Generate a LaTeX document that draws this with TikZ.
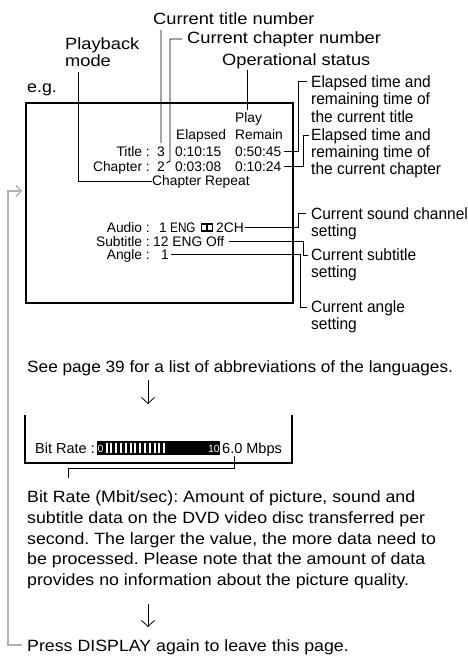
\documentclass[tikz,border=0pt]{standalone}
\usepackage{fontspec}
\setmainfont{Liberation Sans}
\newfontfamily\fwide[FakeStretch=1.12]{Liberation Sans}
\newfontfamily\fmain[FakeStretch=1.09]{Liberation Sans}
\newfontfamily\fsee[FakeStretch=1.056]{Liberation Sans}
\newfontfamily\fnarrow[FakeStretch=0.95]{Liberation Sans}
\newfontfamily\feng[FakeStretch=0.85]{Liberation Sans}
\usetikzlibrary{arrows.meta}
\frenchspacing
\begin{document}
\begin{tikzpicture}[x=1pt,y=-1pt,
  lab/.style={anchor=base west,inner sep=0pt,font=\fwide\fontsize{16.3}{17}\selectfont},
  rlab/.style={anchor=base west,inner sep=0pt,font=\fnarrow\fontsize{16.3}{17}\selectfont},
  txt/.style={anchor=base west,inner sep=0pt,font=\fmain\fontsize{16.3}{17}\selectfont},
  scr/.style={anchor=base west,inner sep=0pt,font=\fontsize{13.8}{14}\selectfont},
  scrr/.style={anchor=base east,inner sep=0pt,font=\fontsize{13.8}{14}\selectfont},
  brt/.style={anchor=base west,inner sep=0pt,font=\fontsize{14.5}{15}\selectfont},
  ln/.style={line width=0.9pt},
  frame/.style={line width=1.7pt},
  downarrow/.style={line width=0.8pt,-{Straight Barb[length=6pt,width=13pt]}},
  backline/.style={line width=1.3pt,draw=gray!60}]
\useasboundingbox (0,0) rectangle (468,659);
\fill[white] (0,0) rectangle (468,659);

% top labels
\node[lab] (ctn) at (153,24) {Current title number};
\node[lab] (ccn) at (187,43) {Current chapter number};
\node[lab] (pb1) at (65,49) {Playback};
\node[lab] (pb2) at (65,66) {mode};
\node[lab] (ops) at (222,65) {Operational status};
\node[txt] (eg) at (27,92) {e.g.};

% right labels
\node[rlab] (et1) at (311,87) {Elapsed time and};
\node[rlab] (et2) at (311,104) {remaining time of};
\node[rlab] (et3) at (311,122) {the current title};
\node[rlab] (ec1) at (311,140) {Elapsed time and};
\node[rlab] (ec2) at (311,157) {remaining time of};
\node[rlab] (ec3) at (311,174) {the current chapter};
\node[rlab] (cs1) at (311,219) {Current sound channel};
\node[rlab] (cs2) at (311,236) {setting};
\node[rlab] (cu1) at (311,260) {Current subtitle};
\node[rlab] (cu2) at (311,277) {setting};
\node[rlab] (ca1) at (311,312) {Current angle};
\node[rlab] (ca2) at (311,329) {setting};

% screen
\node[draw,frame,inner sep=0pt,minimum width=267pt,minimum height=200pt,anchor=north west] (screen) at (25,102) {};
\node[scr] (play) at (235,122) {Play};
\node[scr] (elap) at (176,139) {Elapsed};
\node[scr] (rem) at (235,139) {Remain};
\node[scrr] (tl) at (150,156) {Title :};
\node[scr] (t3) at (157,156) {3};
\node[scr] (te) at (175,156) {0:10:15};
\node[scr] (tr) at (235,156) {0:50:45};
\node[scrr] (cl) at (150,171) {Chapter :};
\node[scr] (c2) at (157,171) {2};
\node[scr] (ce) at (175,171) {0:03:08};
\node[scr] (cr) at (235,171) {0:10:24};
\node[scr] (rep) at (152,185) {Chapter Repeat};
\node[scrr] (al) at (150,232) {Audio :};
\node[scr] (a1) at (159,232) {1};
\node[anchor=base west,inner sep=0pt,font=\feng\fontsize{13.8}{14}\selectfont] (aeng) at (170,232) {ENG};
\node[scr] (a2) at (216,232) {2CH};
\node[scrr] (sl) at (150,246) {Subtitle :};
\node[scr] (s1) at (153,246) {12 ENG Off};
\node[scrr] (gl) at (150,259) {Angle :};
\node[scr] (g1) at (161,259) {1};
% audio icon
\fill (200.5,223) rectangle (213,232);
\fill[white] (202.1,224.6) rectangle (206.1,230.4);
\fill[white] (207.7,224.6) rectangle (211.5,230.4);

% connectors top
\coordinate (ctnA) at (161,30);
\draw[ln] (ctnA) -- ([yshift=3pt]t3.north);
\coordinate (ccnA) at (182,39);
\coordinate (ccnB) at (170,39);
\coordinate (ccnC) at (170,161);
\coordinate (ccnD) at (166.5,163);
\draw[ln] (ccnA) -- (ccnB) -- (ccnC) -- (ccnD);
\coordinate (pbA) at (78,72);
\coordinate (pbB) at (78,181);
\draw[ln] (pbA) -- (pbB) -- (pbB -| rep.west);
\coordinate (opA) at (247,70);
\draw[ln] (opA) -- (247,110);

% connectors right
\draw[ln] (284,151) -- (298,151) -- (298,81) -- (307,81);
\draw[ln] (284,166) -- (303,166) -- (303,135) -- (309,135);
\draw[ln] (245,227) -- (298,227) -- (298,213) -- (306,213);
\draw[ln] (229,241) -- (303,241) -- (303,255) -- (308,255);
\draw[ln] (171,254) -- (300,254) -- (300,307) -- (307,307);

% languages note
\node[anchor=base west,inner sep=0pt,font=\fsee\fontsize{16.3}{17}\selectfont] (see) at (27,372) {See page 39 for a list of abbreviations of the languages.};
\draw[downarrow] (148,380) -- (148,404);

% bit rate
\draw[frame] (25,415) -- (25,463) -- (292,463) -- (292,415);
\node[brt] (br) at (35,453) {Bit Rate :};
\fill (97,441) rectangle (220,455);
\node[anchor=base west,inner sep=0pt,text=white,font=\fontsize{10.5}{11}\selectfont] (b0) at (97.5,452) {0};
\foreach \i in {0,...,12} {\fill[white] (105.5+4.8*\i,443) rectangle (107.5+4.8*\i,453);}
\node[anchor=base east,inner sep=0pt,text=white,font=\fontsize{10.5}{11}\selectfont] (b10) at (220,452) {10};
\node[brt] (mbps) at (222,453) {6.0 Mbps};
\draw[ln] (234,456) -- (234,468) -- (68,468) -- (68,478);

% paragraph
\node[txt] (p1) at (27,502) {Bit Rate (Mbit/sec): Amount of picture, sound and};
\node[txt] (p2) at (27,523) {subtitle data on the DVD video disc transferred per};
\node[txt] (p3) at (27,544) {second. The larger the value, the more data need to};
\node[txt] (p4) at (27,564) {be processed. Please note that the amount of data};
\node[txt] (p5) at (27,585) {provides no information about the picture quality.};
\draw[downarrow] (148,604) -- (148,627);
\node[txt] (press) at (27,651) {Press DISPLAY again to leave this page.};

% back line
\coordinate (bkA) at (22,645);
\coordinate (bkB) at (8,645);
\coordinate (bkC) at (8,191);
\coordinate (bkD) at (22,191);
\draw[backline,-{Straight Barb[length=5pt,width=11pt]}] (bkA) -- (bkB) -- (bkC) -- (bkD);
\end{tikzpicture}
\end{document}
